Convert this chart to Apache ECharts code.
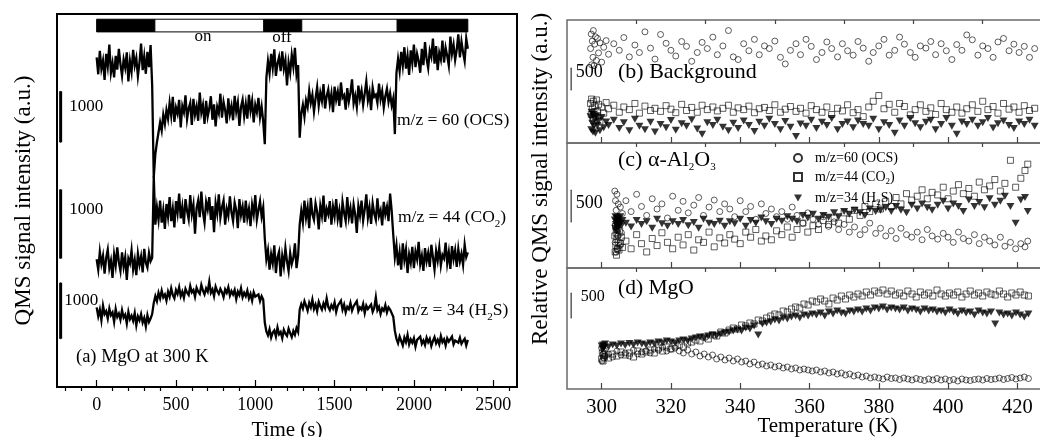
<!DOCTYPE html>
<html><head><meta charset="utf-8">
<script src="https://cdn.jsdelivr.net/npm/echarts@6/dist/echarts.min.js"></script>
<style>html,body{margin:0;padding:0;background:#fff}#c{width:1040px;height:437px}</style>
</head><body><div id="c"></div>
<script>
// ---------- (a) time traces, sampled every 10 s from 0 s ----------
const TIME_STEP = 10;
const OCS_A = [
6450,6120,6580,6230,6390,6010,6520,6280,6700,6150,6340,6060,6480,6210,6620,6320,6090,6410,6250,6550,5980,6380,6170,6600,6290,6440,6080,6350,6720,6200,6470,6130,6560,6260,6690,5900,
4100,4560,4790,4980,5180,5020,5330,5150,5420,
5250,5560,5310,5680,5190,5470,5350,5620,5080,5500,
5380,5710,5240,5450,5560,5130,5640,5330,5490,5210,
5760,5370,5520,5150,5600,5290,5450,5690,5230,5530,
5100,5480,5360,5740,5270,5580,5420,5160,5650,5340,
5500,5220,5700,5390,5570,5110,5480,5620,5300,5540,
5250,5720,5410,5600,5180,5520,5380,5660,5280,5490,
5200,
4750,
6050,6380,6140,6520,6250,6610,6090,6330,6460,6180,6570,6230,6400,5900,6350,6150,6500,6270,6640,6120,6300,
4880,5350,5520,5290,5610,
5480,5800,5560,5720,5390,5650,5870,5510,5760,5600,
5930,5450,5690,5820,5540,5740,5380,5880,5620,5780,
5500,5960,5660,5710,5430,5850,5590,5760,6020,5550,
5700,5480,5900,5640,5800,5520,5740,5980,5610,5770,
5420,5860,5680,5720,5560,5940,5630,5790,5470,5690,
5840,5580,5750,5510,5650,
4950,
6150,6420,6180,6560,6290,6650,6230,6480,6110,6590,
6340,6700,6260,6520,6380,6150,6620,6300,6750,6420,
6240,6580,6460,6820,6330,6670,6200,6540,6410,6780,
6350,6640,6480,6290,6860,6520,6700,6400,6600,6900,
6450,6760,6550,6380,6820,6620
];
const CO2_A = [
1850,1700,1960,1780,1900,1640,1870,1990,1720,1830,
1580,1920,1760,2020,1810,1680,1950,1740,1880,1550,
1860,1790,1980,1700,1840,1620,1930,1770,1890,1660,
2000,1800,1730,1940,1820,1870,
3050,2350,2600,2420,2700,2380,2560,2290,2650,2470,
2750,2400,2580,2310,2690,2520,2800,2440,2610,2360,
2720,2550,2430,2780,2500,2640,2220,2590,2700,2460,
2830,2530,2380,2680,2570,2750,2420,2620,2240,2660,
2510,2790,2450,2600,2700,2350,2580,2480,2760,2530,
2400,2670,2560,2300,2720,2490,2610,2380,2700,2450,
2580,2330,2640,2500,2780,2420,2560,2690,2470,2600,
2150,1850,1980,1700,1920,1790,2050,1650,1880,1960,1600,1900,1750,2010,1820,1680,1940,1780,1870,2080,1720,1900,
2350,2550,2380,2700,2450,2600,2300,2740,2500,2420,
2660,2540,2280,2620,2480,2770,2390,2580,2500,2690,
2350,2610,2470,2720,2430,2560,2310,2680,2520,2400,
2750,2460,2590,2370,2640,2500,2230,2620,2480,2700,
2410,2570,2790,2450,2600,2360,2660,2510,2420,2730,
2480,2560,2340,2680,2500,2610,2400,2800,2550,2200,
1880,2050,1760,1950,1700,2080,1840,1990,1650,1920,
1800,2030,1720,1960,1850,2100,1780,1900,1680,2010,
1820,1940,1740,2060,1880,1700,1970,1830,2020,1760,
1910,1860,2090,1790,1950,1710,2040,1850,1980,1740,
2000,1820,1930,1770,2060,1880,1950
];
const H2S_A = [
1420,1260,1380,1190,1450,1300,1350,1220,1400,1280,
1330,1160,1390,1250,1310,1200,1370,1240,1290,1130,
1340,1210,1270,1180,1320,1100,1260,1190,1300,1150,
1230,1080,1280,1160,1220,1300,
1500,1620,1530,1680,1580,1720,1600,1650,1540,1700,
1610,1760,1640,1580,1730,1660,1780,1620,1700,1590,
1750,1680,1640,1800,1690,1730,1610,1770,1700,1660,
1820,1720,1650,1760,1700,1880,1680,1740,1620,1790,
1710,1660,1750,1690,1600,1740,1680,1780,1630,1710,
1650,1730,1570,1700,1640,1760,1600,1680,1620,1720,
1580,1660,1540,1690,1610,1580,1650,1530,1620,1560,
1150,990,920,1030,880,970,1010,900,1060,940,980,870,1020,950,910,1040,960,890,1000,930,1050,980,
1380,1480,1400,1530,1450,1360,1500,1420,1560,1390,
1470,1350,1520,1440,1380,1490,1410,1580,1430,1370,
1460,1400,1510,1340,1450,1420,1540,1380,1470,1330,
1430,1390,1500,1360,1440,1410,1530,1350,1420,1380,
1480,1320,1450,1390,1360,1470,1340,1410,1600,1370,
1430,1300,1400,1360,1460,1330,1420,1380,1350,1250,
1000,860,780,900,820,740,880,800,930,760,
850,790,870,720,840,810,900,770,830,750,
880,800,860,730,820,890,780,840,760,910,
800,850,740,870,810,780,900,760,830,850,
790,880,770,820,860,740,840
];
// gas flow periods: [start s, end s, 1 = on / 0 = off]
const FLOW = [[0,367,0],[367,1054,1],[1054,1293,0],[1293,1895,1],[1895,2340,0]];
const TIME_MAJOR = [0,500,1000,1500,2000,2500];
const TIME_MINOR = [-200,-100,100,200,300,400,600,700,800,900,1100,1200,1300,1400,1600,1700,1800,1900,2100,2200,2300,2400,2600];
const SCALE_A = [4790, 1860, 860];   // bottoms of the 1000 a.u. scale bars (OCS, CO2, H2S)
const SCALE_A_LEN = 1000;
const SCALE_A_T = -227;

// ---------- (b) background ----------
const TB = [296.8,297.0,297.1,297.3,297.5,297.6,297.8,298.0,298.2,298.5,298.8,299.1,299.5,300.0,300.6,301.3,
302.0,303.5,305.1,306.4,308.0,309.6,310.9,312.5,314.1,315.4,
317.0,318.6,320.0,321.4,323.1,324.5,326.0,327.6,329.0,330.5,
332.1,333.4,335.0,336.6,338.0,339.4,341.0,342.5,344.1,345.5,
347.0,348.4,350.0,351.6,353.0,354.5,356.1,357.4,359.0,360.5,
362.0,363.6,365.0,366.4,368.1,369.5,371.0,372.6,374.0,375.5,
377.1,378.4,380.0,381.5,383.0,384.6,386.0,387.4,389.1,390.5,
392.0,393.6,395.0,396.4,398.0,399.5,401.1,402.5,404.0,405.4,
407.0,408.6,410.0,411.5,413.0,414.4,416.0,417.6,419.0,420.5,
422.0,423.5,425.0];
const OCS_B = [2150,2480,1780,2320,1950,2560,1760,2250,2420,1880,2380,2050,2280,1840,2180,2330,
2020,2260,2110,2400,1960,2230,2060,2530,2160,1910,
2470,2270,2110,1980,2310,2200,1860,2060,2290,2150,
2410,2010,2210,2560,1960,1900,2260,2100,2360,2010,
2210,2150,2320,1950,1800,2110,2260,2010,2360,2200,
1900,2060,2300,2150,1960,2260,2100,2000,2310,2160,
1860,2060,2210,2360,2000,2110,2410,2250,2060,1950,
2210,2160,2310,2010,2260,2100,1900,2240,2110,2460,
2350,2000,2210,2150,1950,2300,2380,2100,2250,2060,
2200,1950,2150];
const CO2_B = [900,650,1000,780,550,950,700,850,600,980,720,880,500,820,680,920,
780,860,700,820,760,900,680,840,740,790,
720,850,770,690,880,740,810,700,860,760,
820,730,790,860,700,800,760,840,690,780,
810,740,870,700,770,830,720,790,680,850,
760,700,820,650,790,730,870,690,760,600,
820,950,1080,780,880,700,900,830,640,760,
870,720,800,650,900,760,700,820,680,780,
870,720,950,760,830,680,900,770,820,700,
850,740,790];
const H2S_B = [600,300,700,450,250,650,380,550,220,620,400,500,280,580,350,480,
400,520,330,460,280,540,380,300,470,250,
420,350,510,290,440,380,530,320,200,460,
400,520,360,280,450,330,500,400,260,470,
380,540,420,300,490,360,150,430,380,520,
330,470,400,560,300,420,480,350,500,420,
380,540,300,460,400,220,500,380,560,440,
350,470,520,300,420,560,380,200,480,420,
520,380,460,560,340,440,500,400,330,480,
420,520,380];

// ---------- (c) alpha-Al2O3 ----------
const TC = [303.8,303.9,304.0,304.1,304.2,304.3,304.4,304.5,304.6,304.7,304.8,305.0,305.2,305.4,305.7,306.0,
307.0,308.5,310.1,311.5,313.0,314.6,316.0,317.4,319.0,320.5,
322.1,323.5,325.0,326.6,328.0,329.4,331.0,332.5,334.1,335.5,
337.0,338.4,340.0,341.6,343.0,344.5,346.1,347.4,349.0,350.5,
352.0,353.6,355.0,356.4,358.1,359.5,361.0,362.6,364.0,365.5,
367.1,368.4,370.0,371.5,373.0,374.6,376.0,377.4,379.1,380.5,
382.0,383.6,385.0,386.4,388.0,389.5,391.1,392.5,394.0,395.4,
397.0,398.6,400.0,401.5,403.0,404.4,406.0,407.6,409.0,410.5,
412.0,413.5,415.1,416.4,418.0,419.5,421.0,422.2,423.0];
const OCS_C = [1200,400,1050,250,900,600,1150,300,800,500,1000,700,350,950,550,850,
1050,880,1150,960,820,1080,920,1000,780,1120,
900,1040,860,980,1100,820,950,1060,880,1000,
920,800,1050,880,960,760,1000,850,920,800,
880,760,950,820,700,860,760,680,800,650,
720,600,680,560,640,520,600,700,540,620,
500,580,460,620,520,480,560,440,600,500,
450,540,480,400,560,460,420,520,380,480,
420,360,480,340,400,300,380,330,420];
const CO2_C = [500,250,650,350,550,200,450,600,300,520,400,280,580,380,480,320,
420,300,520,380,250,460,350,550,400,300,
480,360,520,280,440,400,560,330,470,390,
520,450,380,560,480,600,420,500,440,580,
520,640,480,600,700,560,660,600,740,680,
780,700,860,760,900,820,960,880,1000,920,
1040,960,1100,1000,1160,1060,1120,1220,1080,1180,
1140,1260,1080,1200,1300,1160,1240,1120,1340,1220,
1280,1380,1200,1320,1680,1260,1400,1520,1620];
const H2S_C = [750,620,800,680,720,580,780,650,700,760,640,720,690,800,660,740,
700,640,740,680,720,620,760,690,650,720,
680,740,660,710,620,760,700,680,730,650,
720,690,760,650,740,700,780,720,680,760,
730,800,760,720,820,780,840,760,820,790,
860,800,880,840,900,860,820,920,880,900,
940,880,960,900,860,980,920,1000,940,900,
980,1040,920,1000,960,880,1060,960,1020,940,
1080,980,1040,1120,960,700,1060,1100,880];

// ---------- (d) MgO ----------
const TD = [300.0,300.2,300.4,300.6,300.8,301.0,
302.0,303.2,304.4,305.6,306.8,308.0,309.2,310.4,311.6,312.8,
314.0,315.2,316.4,317.6,318.8,320.0,321.2,322.4,323.6,324.8,
326.0,327.2,328.4,329.6,330.8,332.0,333.2,334.4,335.6,336.8,
338.0,339.2,340.4,341.6,342.8,344.0,345.2,346.4,347.6,348.8,
350.0,351.2,352.4,353.6,354.8,356.0,357.2,358.4,359.6,360.8,
362.0,363.2,364.4,365.6,366.8,368.0,369.2,370.4,371.6,372.8,
374.0,375.2,376.4,377.6,378.8,380.0,381.2,382.4,383.6,384.8,
386.0,387.2,388.4,389.6,390.8,392.0,393.2,394.4,395.6,396.8,
398.0,399.2,400.4,401.6,402.8,404.0,405.2,406.4,407.6,408.8,
410.0,411.2,412.4,413.6,414.8,416.0,417.2,418.4,419.6,420.8,
422.0,423.2];
const OCS_D = [820,560,700,620,760,660,
700,640,760,680,720,660,780,700,740,760,
720,800,780,840,760,800,820,760,720,780,
700,740,660,700,640,680,600,640,580,620,
560,600,540,560,500,540,480,500,460,480,
440,460,420,440,400,420,380,400,380,360,
380,340,360,320,340,300,320,280,300,260,
280,240,260,220,240,220,200,240,210,220,
190,220,200,180,210,190,170,200,180,210,
180,200,170,190,160,200,180,170,190,200,
180,210,190,200,220,190,210,230,200,220,
240,210];
const CO2_D = [600,720,560,680,640,700,
620,700,660,740,680,720,640,760,700,740,
780,720,820,760,840,800,860,880,840,920,
940,980,960,1040,1000,1080,1060,1140,1120,1180,
1220,1200,1280,1260,1320,1300,1380,1360,1420,1460,
1500,1480,1560,1540,1600,1640,1620,1700,1680,1760,
1740,1800,1760,1700,1820,1780,1860,1800,1880,1840,
1900,1860,1940,1880,1960,1920,1980,1900,1960,1880,
1920,1860,1960,1900,1840,1940,1880,1920,1860,1980,
1900,1860,1920,1880,1940,1840,1900,1960,1880,1920,
1860,1940,1900,1880,1960,1900,1840,1920,1880,1940,
1880,1860];
const H2S_D = [860,800,880,820,840,900,
840,880,860,900,870,910,880,920,900,880,
920,900,940,920,960,940,920,960,980,960,
1000,1020,1040,1020,1060,1080,1060,1100,1120,1140,
1160,1180,1160,1220,1200,1260,1080,1300,1320,1340,
1380,1360,1420,1400,1440,1460,1420,1480,1460,1500,
1480,1520,1460,1540,1500,1560,1520,1500,1560,1540,
1580,1540,1600,1560,1620,1600,1640,1580,1620,1600,
1580,1620,1560,1600,1580,1540,1600,1560,1580,1540,
1560,1520,1580,1540,1500,1560,1520,1540,1480,1560,
1520,1500,1540,1300,1520,1480,1500,1460,1520,1480,
1440,1500];

const TEMP_MAJOR = [300,320,340,360,380,400,420];
const TEMP_MINOR = [310,330,350,370,390,410];
const SCALE_R = [1206, 718, 1420];  // bottoms of the 500 a.u. scale bars (b, c, d)
const SCALE_R_LEN = 500;
const SCALE_R_T = 291.2;
const NAMES = ['m/z=60 (OCS)', 'm/z=44 (CO2)', 'm/z=34 (H2S)'];
const NAMES_RICH = {'m/z=60 (OCS)':'m/z=60 (OCS)', 'm/z=44 (CO2)':'m/z=44 (CO{s|2})', 'm/z=34 (H2S)':'m/z=34 (H{s|2}S)'};

// ---------- checks ----------
function chk(a, b, n){ if (a.length !== b.length) throw new Error(n + ' length ' + a.length + ' vs ' + b.length); }
chk(OCS_A, CO2_A, 'CO2_A'); chk(OCS_A, H2S_A, 'H2S_A');
chk(TB, OCS_B, 'OCS_B'); chk(TB, CO2_B, 'CO2_B'); chk(TB, H2S_B, 'H2S_B');
chk(TC, OCS_C, 'OCS_C'); chk(TC, CO2_C, 'CO2_C'); chk(TC, H2S_C, 'H2S_C');
chk(TD, OCS_D, 'OCS_D'); chk(TD, CO2_D, 'CO2_D'); chk(TD, H2S_D, 'H2S_D');

const TIME = OCS_A.map((_, i) => i * TIME_STEP);
const F = "'Liberation Serif', 'Times New Roman', serif";
const BLACK = '#000';
const FRAME_R = '#6a6a6a';
const SUB = {s: {fontSize: 11, verticalAlign: 'bottom', lineHeight: 26, fontFamily: F}};
const TRI = 'path://M0,0L10,0L5,8.66Z';

const grids = [
  {left: 57, top: 14, width: 460, height: 373},
  {left: 567, top: 20, width: 485, height: 123},
  {left: 567, top: 143, width: 485, height: 125},
  {left: 567, top: 268, width: 485, height: 121}
].map((g, i) => Object.assign({show: true, backgroundColor: 'transparent', borderColor: i === 0 ? BLACK : FRAME_R, borderWidth: i === 0 ? 2 : 1.5, containLabel: false, outerBoundsMode: 'none'}, g));

function tickAxis(grid, min, max, vals, len, color, label) {
  return {
    gridIndex: grid, type: 'value', min: min, max: max,
    axisLine: {show: false}, splitLine: {show: false},
    axisTick: {show: true, inside: true, length: len, customValues: vals, lineStyle: {color: color, width: 1.2}},
    axisLabel: label ? Object.assign({show: true, customValues: vals, color: BLACK, fontFamily: F, formatter: v => String(v)}, label) : {show: false}
  };
}

const xAxes = [
  Object.assign(tickAxis(0, -250, 2650, TIME_MAJOR, 7, BLACK, {fontSize: 18, margin: 9}),
    {name: 'Time (s)', nameLocation: 'middle', nameGap: 33, nameMoveOverlap: false, nameTextStyle: {fontSize: 21, fontFamily: F, color: BLACK}}),
  tickAxis(0, -250, 2650, TIME_MINOR, 4, BLACK, null),
  tickAxis(1, 290, 430, TEMP_MAJOR, 6, '#444', null),
  tickAxis(1, 290, 430, TEMP_MINOR, 4, '#444', null),
  tickAxis(2, 290, 430, TEMP_MAJOR, 6, '#444', null),
  tickAxis(2, 290, 430, TEMP_MINOR, 4, '#444', null),
  Object.assign(tickAxis(3, 290, 430, TEMP_MAJOR, 6, '#444', {fontSize: 20.5, margin: 8}),
    {name: 'Temperature (K)', nameLocation: 'middle', nameGap: 27, nameMoveOverlap: false, nameTextStyle: {fontSize: 21, fontFamily: F, color: BLACK, padding: [0, 0, 0, 36]}}),
  tickAxis(3, 290, 430, TEMP_MINOR, 4, '#444', null)
];

function hiddenY(grid, min, max) { return {gridIndex: grid, type: 'value', min: min, max: max, show: false}; }
const yAxes = [
  {gridIndex: 0, type: 'value', min: 0, max: 7300, axisLine: {show: false}, axisTick: {show: false}, axisLabel: {show: false}, splitLine: {show: false},
   name: 'QMS signal intensity (a.u.)', nameLocation: 'middle', nameGap: 22, nameRotate: 90, nameMoveOverlap: false, nameTextStyle: {fontSize: 23, fontFamily: F, color: BLACK}},
  hiddenY(0, 0, 5400),
  hiddenY(0, 0, 6650),
  hiddenY(0, 0, 1),
  hiddenY(1, 0, 2800),
  hiddenY(2, 0, 1950),
  hiddenY(3, 0, 2420)
];

const series = [];
// (a) traces
[OCS_A, CO2_A, H2S_A].forEach((arr, k) => {
  series.push({type: 'line', xAxisIndex: 0, yAxisIndex: k, data: TIME.map((t, i) => [t, arr[i]]),
    showSymbol: false, symbol: 'none', lineStyle: {color: BLACK, width: 2.3, join: 'miter'}, silent: true, z: 3});
});
// (a) scale bars
const A_LABEL_OFF = [[5, 15], [5, 20], [0, 18]];
SCALE_A.forEach((lo, k) => {
  series.push({type: 'line', xAxisIndex: 0, yAxisIndex: k, silent: true, z: 4,
    symbol: 'circle', symbolSize: 1, showSymbol: true, itemStyle: {color: BLACK},
    lineStyle: {color: BLACK, width: 3, cap: 'butt'},
    data: [[SCALE_A_T, lo], {value: [SCALE_A_T, lo + SCALE_A_LEN],
      label: {show: true, formatter: String(SCALE_A_LEN), position: 'right', distance: 3, offset: A_LABEL_OFF[k], fontSize: 17, fontFamily: F, color: BLACK}}]});
});
// (a) gas flow bar
series.push({type: 'custom', xAxisIndex: 0, yAxisIndex: 3, silent: true, z: 5,
  data: FLOW, encode: {x: [0, 1]},
  renderItem: function (params, api) {
    const p0 = api.coord([api.value(0), 0.986]);
    const p1 = api.coord([api.value(1), 0.952]);
    return {type: 'rect', shape: {x: p0[0], y: p0[1], width: p1[0] - p0[0], height: p1[1] - p0[1]},
      style: {fill: api.value(2) ? '#fff' : BLACK, stroke: BLACK, lineWidth: 1}};
  }});

// right panels
const PANELS = [
  {x: 2, y: 4, T: TB, d: [OCS_B, CO2_B, H2S_B], sz: 6},
  {x: 4, y: 5, T: TC, d: [OCS_C, CO2_C, H2S_C], sz: 6},
  {x: 6, y: 6, T: TD, d: [OCS_D, CO2_D, H2S_D], sz: 6}
];
const SYM = [
  {symbol: 'circle', itemStyle: {color: 'rgba(255,255,255,0)', borderColor: BLACK, borderWidth: 0.8}},
  {symbol: 'rect', itemStyle: {color: 'rgba(255,255,255,0)', borderColor: BLACK, borderWidth: 0.8}},
  {symbol: TRI, itemStyle: {color: BLACK, borderWidth: 0}}
];
PANELS.forEach(p => {
  p.d.forEach((arr, k) => {
    series.push(Object.assign({type: 'scatter', name: NAMES[k], xAxisIndex: p.x, yAxisIndex: p.y, silent: true,
      symbolSize: k === 2 ? [p.sz + 2, p.sz + 1] : p.sz, z: 3 + k,
      data: p.T.map((t, i) => [t, arr[i]])}, SYM[k]));
  });
});
const R_LABEL = [{off: [2, 4], fs: 18}, {off: [2, 13], fs: 18}, {off: [7, 4], fs: 16}];
SCALE_R.forEach((lo, k) => {
  series.push({type: 'line', xAxisIndex: PANELS[k].x, yAxisIndex: PANELS[k].y, silent: true, z: 4,
    symbol: 'circle', symbolSize: 1, showSymbol: true, itemStyle: {color: '#333'},
    lineStyle: {color: '#333', width: 1.2, cap: 'butt'},
    data: [[SCALE_R_T, lo], {value: [SCALE_R_T, lo + SCALE_R_LEN],
      label: {show: true, formatter: String(SCALE_R_LEN), position: 'right', distance: 2, offset: R_LABEL[k].off, fontSize: R_LABEL[k].fs, fontFamily: F, color: BLACK}}]});
});

function txt(x, y, text, fs, extra) {
  return {type: 'text', x: x, y: y, silent: true, z: 10, rotation: (extra && extra.rot) || 0,
    style: {text: text, fontSize: fs, fontFamily: F, fill: BLACK, align: (extra && extra.align) || 'left', verticalAlign: 'middle', rich: SUB, lineHeight: 26}};
}
const graphic = [
  txt(203, 37, 'on', 17, {align: 'center'}),
  txt(282, 38, 'off', 17, {align: 'center'}),
  txt(397, 120, 'm/z = 60 (OCS)', 17.5),
  txt(398, 217, 'm/z = 44 (CO{s|2})', 17.5),
  txt(402, 310, 'm/z = 34 (H{s|2}S)', 17.5),
  txt(76, 357, '(a) MgO at 300 K', 18.5),
  txt(618, 72, '(b) Background', 22),
  txt(618, 160, '(c) α-Al{s|2}O{s|3}', 22),
  txt(618, 288, '(d) MgO', 21.5),
  txt(541, 179, 'Relative QMS signal intensity (a.u.)', 23, {align: 'center', rot: Math.PI / 2})
];

const chart = echarts.init(document.getElementById('c'), null, {renderer: 'canvas'});
chart.setOption({
  animation: false,
  backgroundColor: '#fff',
  textStyle: {fontFamily: F},
  grid: grids,
  xAxis: xAxes,
  yAxis: yAxes,
  legend: {data: NAMES, left: 788, top: 146, orient: 'vertical', itemGap: 5, itemWidth: 8, itemHeight: 8,
    selectedMode: false, formatter: n => NAMES_RICH[n],
    textStyle: {fontSize: 14, fontFamily: F, color: BLACK, padding: [0, 0, 0, 8], rich: {s: {fontSize: 9, verticalAlign: 'bottom', lineHeight: 18, fontFamily: F}}}},
  series: series,
  graphic: graphic
});
</script></body></html>
